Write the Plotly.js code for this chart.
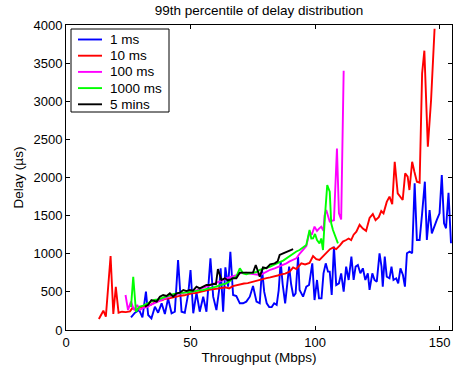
<!DOCTYPE html>
<html>
<head>
<meta charset="utf-8">
<script src="https://cdn.plot.ly/plotly-3.0.1.min.js"></script>
<style>html,body{margin:0;padding:0;background:#fff;}#chart{width:456px;height:366px;}</style>
</head>
<body>
<div id="chart"></div>
<script>
// Series names
const seriesNames = ["1 ms", "10 ms", "100 ms", "1000 ms", "5 mins"];
const xTickVals = [0, 50, 100, 150];

// 1 ms
const tput1ms = [26.1,27.7,29.4,30.7,32.1,33.0,34.3,35.7,37.0,38.4,39.7,41.0,42.4,43.7,45.0,46.4,47.7,49.1,50.0,51.1,52.4,53.7,55.1,56.4,58.0,59.1,60.4,61.5,62.1,63.1,64.0,65.1,66.0,67.1,68.4,69.8,71.1,72.4,73.8,75.1,76.5,77.8,78.7,79.6,80.6,81.6,82.6,83.6,84.6,85.4,86.2,87.0,88.0,88.8,89.6,90.4,91.3,92.2,93.2,93.8,95.2,96.5,97.6,98.9,99.8,100.8,101.6,102.6,103.4,104.3,105.2,105.9,106.7,107.6,108.5,109.6,110.5,111.5,112.5,113.5,114.6,115.5,116.3,117.2,118.2,119.2,120.2,121.2,121.9,123.0,123.9,124.8,125.9,126.7,127.2,128.0,128.8,129.9,130.7,131.5,132.6,133.4,134.3,135.3,136.1,136.9,138.0,139.0,140.0,140.9,142.0,143.0,144.1,144.9,146.0,146.9,147.8,148.9,150.0,150.9,151.8,152.6,153.6,154.6];
const delay1ms = [166,227,262,166,503,197,153,306,227,350,210,415,219,240,918,240,227,481,787,219,490,240,437,240,940,437,262,525,809,240,822,568,1027,459,446,350,350,372,437,577,372,350,800,500,350,300,300,350,330,520,900,600,350,560,830,600,440,480,960,525,437,568,590,874,393,656,415,415,743,874,765,765,459,1093,590,612,743,503,831,656,962,656,831,852,743,809,656,743,525,743,656,634,1006,831,568,962,699,678,831,656,678,612,809,721,568,1006,1027,1006,1924,1180,1180,1530,1945,1180,1574,1268,1355,1443,1530,2033,1399,1334,1800,1137];

// 10 ms
const tput10ms = [13.2,15,16,17.9,19,20,21.1,22.5,24,25.7,26.7,28,29.5,31,32.5,34,35.5,37,38.5,40,41.5,43,44.5,46,47.5,49,50.5,52,53.5,55,56.5,58,59.5,61,62.5,64,65.5,67,68.5,70,71.5,73,74.5,76,77.5,79,80.5,82,83.5,85,86.5,88,89.8,91.2,92.5,94.5,96,97.8,99.2,100.5,101.8,103,104.5,106,107.2,108.5,110,111.2,112.5,113.5,114.5,115.5,116.6,117.9,119.2,120.5,121.9,123.2,124.3,125.6,126.6,127.5,128.8,129.9,131,132,133.2,134.6,135.2,136.2,137.2,137.9,139,139.9,140.9,142,143,143.9,145.3,146.6,148];
const delay10ms = [144,253,175,970,210,565,227,240,235,245,290,262,290,306,320,330,360,393,390,410,415,430,437,450,455,470,480,485,500,505,520,530,535,545,550,560,546,575,590,600,610,615,630,640,656,665,680,690,700,715,730,740,765,820,800,874,860,880,970,930,918,960,1020,1060,1080,1060,1110,1160,1180,1200,1180,1250,1290,1380,1330,1300,1470,1520,1440,1480,1560,1530,1680,1750,1650,2207,1792,1727,1705,2054,2011,1836,2207,2076,1945,1932,3366,3663,2404,3016,3950];

// 100 ms
const tput100ms = [23.9,24.9,26.1,27.3,28.6,29.6,31,32.5,34,35.4,36.8,38.1,39.5,40.8,42,43,44.4,45.7,47,48.4,49.7,51.1,52.4,53.7,55.1,56.4,57.8,59.1,60.4,61.8,63,64.4,65.7,67.1,68.4,69.8,71.1,72.4,73.8,75.1,76.5,77.8,79.1,80.5,82,83.8,85.4,87.2,88.5,89.8,91.2,92.5,93.8,95.2,96.5,97.8,98.7,99.8,100.8,101.6,102.5,103.4,103.8,104.5,105.2,105.9,106.7,107.6,108.8,109.6,110.5,111.5];
const delay100ms = [459,262,372,262,328,262,290,300,330,350,370,393,410,437,445,459,470,481,490,495,500,503,520,540,555,568,585,604,620,634,655,678,690,699,720,743,745,752,740,735,728,721,740,765,790,809,830,852,874,900,920,940,1000,1049,1100,1289,1250,1355,1300,1330,1355,1300,1500,1574,1500,1421,1430,1440,2380,1530,1450,3400];

// 1000 ms
const tput1000ms = [26.1,27,28.1,29.6,31,32.7,34,35.4,37,38.5,40,41.5,43,44.4,46,47.5,49,50.5,52,53.5,55.1,56.5,58,59.2,60.4,62,63.2,64.4,65.7,67,68.4,69.8,71.1,72.4,73.8,75.1,76.5,77.8,79.1,80.5,82,83.2,84.5,85.8,87.2,88.5,89.8,91.2,92.5,93.8,95.2,96.5,97.8,98.5,99.2,100,100.8,101.8,102.5,103.2,104,104.9,105.9,106.5,107.2,108.3,109.2];
const delay1000ms = [300,699,240,306,320,350,372,393,400,420,440,450,470,481,490,490,495,500,510,520,525,540,550,560,568,590,600,612,640,678,700,809,743,730,743,750,760,787,800,809,830,850,874,890,910,940,970,1006,1030,1049,1080,1115,1311,1200,1202,1260,1180,1137,1200,1049,1500,1902,1815,1400,1311,1224,1137];

// 5 mins
const tput5min = [31.7,33,34.3,35.5,36.4,37.7,39,40.4,41.7,43,44.4,45.7,47.1,48.4,49.7,51,52.4,53.7,55.1,56.4,57.8,59.1,60.2,61,62.4,63.8,65.1,66,67.1,68.4,69.8,71,72.4,73.8,75.1,76.2,77.1,77.8,79.1,80.5,82,83.8,85,85.8,87.2,88.5,89.5,90.5,91.2];
const delay5min = [306,330,393,380,372,437,459,446,481,437,481,490,525,510,525,515,568,545,568,590,590,604,600,800,656,678,650,660,678,678,752,752,752,745,752,852,765,700,820,810,860,874,900,984,1006,1027,1040,1049,1060];

const colors = ["#0000ff", "#ff0000", "#ff00ff", "#00ff00", "#000000"];
const xs = [tput1ms, tput10ms, tput100ms, tput1000ms, tput5min];
const ys = [delay1ms, delay10ms, delay100ms, delay1000ms, delay5min];

const FONT = "Liberation Sans, Arial, Helvetica, sans-serif";
const W = 456, H = 366;
const M = {l: 66, r: 4, t: 25, b: 36};
const plotW = W - M.l - M.r, plotH = H - M.t - M.b;
// pixel -> paper helpers (for the legend box only)
const px2x = px => (px - M.l) / plotW;
const py2y = py => 1 - (py - M.t) / plotH;

const traces = seriesNames.map((n, i) => ({
  type: "scatter", mode: "lines", name: n,
  x: xs[i], y: ys[i],
  line: {color: colors[i], width: 1.9},
  hoverinfo: "skip", showlegend: false
}));

// MATLAB-style legend box, built from the series names and colours
const legBox = {left: 71, right: 169, top: 29, bottom: 112, row0: 39.5, step: 16.2, lineL: 78, lineR: 102, textL: 108};
const shapes = [{
  type: "rect", xref: "paper", yref: "paper", layer: "above",
  x0: px2x(legBox.left), x1: px2x(legBox.right), y0: py2y(legBox.bottom), y1: py2y(legBox.top),
  line: {color: "#000", width: 1}, fillcolor: "#fff"
}];
const annotations = [];
seriesNames.forEach((n, i) => {
  const yy = py2y(legBox.row0 + i * legBox.step);
  shapes.push({type: "line", xref: "paper", yref: "paper", layer: "above",
    x0: px2x(legBox.lineL), x1: px2x(legBox.lineR), y0: yy, y1: yy,
    line: {color: colors[i], width: 1.9}});
  annotations.push({xref: "paper", yref: "paper", x: px2x(legBox.textL), y: yy,
    xanchor: "left", yanchor: "middle", showarrow: false, text: n,
    font: {family: FONT, size: 13.5, color: "#000"}});
});

const axisCommon = {
  showline: true, linecolor: "#000", linewidth: 1, mirror: "ticks",
  ticks: "inside", ticklen: 4, tickcolor: "#000", tickwidth: 1,
  showgrid: false, zeroline: false,
  tickfont: {family: FONT, size: 13, color: "#000"}
};

const layout = {
  width: W, height: H,
  margin: M,
  paper_bgcolor: "#fff", plot_bgcolor: "#fff",
  font: {family: FONT, color: "#000"},
  title: {text: "99th percentile of delay distribution", font: {family: FONT, size: 13.5, color: "#000"},
          x: 0.568, xanchor: "center", y: 0.972, yref: "container", yanchor: "middle"},
  xaxis: Object.assign({}, axisCommon, {
    range: [0, 155], tickvals: xTickVals, ticktext: xTickVals.map(String),
    title: {text: "Throughput (Mbps)", font: {family: FONT, size: 13.5, color: "#000"}, standoff: 0}
  }),
  yaxis: Object.assign({}, axisCommon, {
    range: [0, 4000], dtick: 500, tick0: 0,
    title: {text: "Delay (µs)", font: {family: FONT, size: 13.5, color: "#000"}, standoff: 6}
  }),
  showlegend: false,
  shapes: shapes,
  annotations: annotations
};

Plotly.newPlot("chart", traces, layout, {displayModeBar: false, staticPlot: true});
</script>
</body>
</html>
